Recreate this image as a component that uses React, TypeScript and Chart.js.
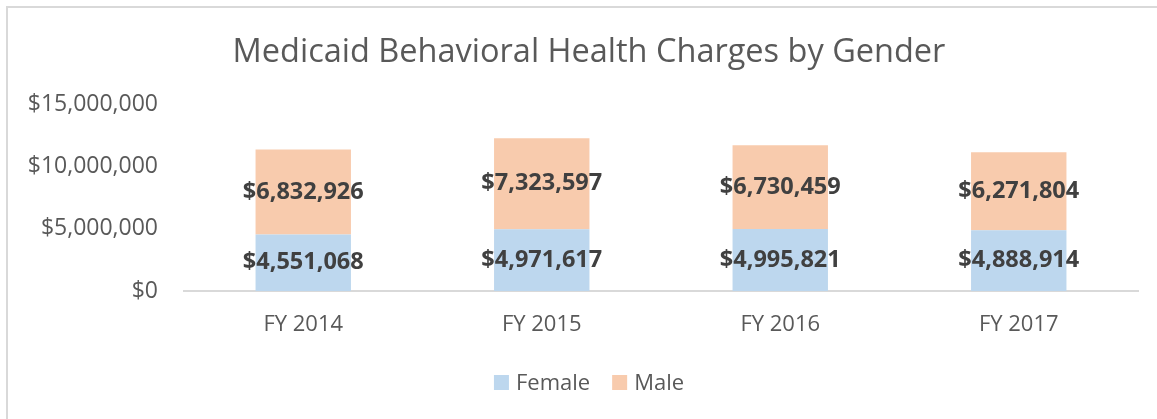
import React, { useEffect, useRef } from "react";
import { Chart, registerables } from "chart.js";

Chart.register(...registerables);

const categories = ["FY 2014", "FY 2015", "FY 2016", "FY 2017"];
const femaleValues = [4551068, 4971617, 4995821, 4888914];
const maleValues = [6832926, 7323597, 6730459, 6271804];
const seriesNames = ["Female", "Male"];
const seriesColors = ["#BDD7EE", "#F8CBAD"];
const titleText = "Medicaid Behavioral Health Charges by Gender";

const FONT = "'Open Sans', 'Noto Sans', sans-serif";
const TEXT = "#595959";

const fmt = (v: number) => "$" + Math.round(v).toLocaleString("en-US");

const labelPlugin = {
  id: "segLabels",
  afterDatasetsDraw(chart: any) {
    const ctx = chart.ctx;
    ctx.save();
    ctx.font = `bold 23.5px ${FONT}`;
    ctx.fillStyle = "#404040";
    ctx.textAlign = "center";
    ctx.textBaseline = "middle";
    chart.data.datasets.forEach((ds: any, di: number) => {
      const meta = chart.getDatasetMeta(di);
      meta.data.forEach((el: any, i: number) => {
        const y = (el.y + el.base) / 2;
        ctx.fillText(fmt(ds.data[i]), el.x, y);
      });
    });
    ctx.restore();
  },
};

// Title and legend drawn centred on the frame (which is offset from the canvas)
const frameCenterX = 589;
const titleY = 52.5;
const legendY = 382.5;
const legendBox = 15;
const legendBoxGap = 7;
const legendItemGap = 22;

const titleLegendPlugin = {
  id: "titleLegend",
  afterDraw(chart: any) {
    const ctx = chart.ctx;
    ctx.save();
    ctx.fillStyle = TEXT;
    ctx.textBaseline = "middle";
    ctx.textAlign = "center";
    ctx.font = `32.5px ${FONT}`;
    ctx.fillText(titleText, frameCenterX, titleY);

    ctx.font = `22px ${FONT}`;
    ctx.textAlign = "left";
    const widths = chart.data.datasets.map((d: any) => ctx.measureText(d.label).width);
    const total =
      widths.reduce((a: number, w: number) => a + legendBox + legendBoxGap + w, 0) +
      legendItemGap * (widths.length - 1);
    let x = frameCenterX - total / 2;
    chart.data.datasets.forEach((d: any, i: number) => {
      ctx.fillStyle = d.backgroundColor;
      ctx.fillRect(x, legendY - legendBox / 2, legendBox, legendBox);
      x += legendBox + legendBoxGap;
      ctx.fillStyle = TEXT;
      ctx.fillText(d.label, x, legendY + 1);
      x += widths[i] + legendItemGap;
    });
    ctx.restore();
  },
};

export default function App() {
  const ref = useRef<HTMLCanvasElement>(null);
  useEffect(() => {
    if (!ref.current) return;
    const chart = new Chart(ref.current, {
      type: "bar",
      data: {
        labels: categories,
        datasets: [
          { label: seriesNames[0], data: femaleValues, backgroundColor: seriesColors[0], barPercentage: 0.4, categoryPercentage: 1 },
          { label: seriesNames[1], data: maleValues, backgroundColor: seriesColors[1], barPercentage: 0.4, categoryPercentage: 1 },
        ],
      },
      options: {
        animation: false,
        responsive: true,
        maintainAspectRatio: false,
        layout: { padding: { left: 0, right: 19, top: 104.5, bottom: 70 } },
        plugins: {
          title: { display: false },
          legend: { display: false },
          tooltip: { enabled: false },
        },
        scales: {
          x: {
            stacked: true,
            grid: { display: false, drawTicks: false },
            border: { display: true, color: "#D9D9D9", width: 2 },
            ticks: { color: TEXT, font: { family: FONT, size: 22 }, padding: 21 },
            afterFit: (s: any) => {
              s.height = 58;
            },
          },
          y: {
            stacked: true,
            min: 0,
            max: 15000000,
            grid: { display: false, drawTicks: false },
            border: { display: false },
            ticks: {
              stepSize: 5000000,
              color: TEXT,
              font: { family: FONT, size: 23 },
              padding: 26,
              callback: (v: any) => fmt(Number(v)),
            },
            afterFit: (s: any) => {
              s.width = 184;
            },
          },
        },
      },
      plugins: [labelPlugin, titleLegendPlugin],
    });
    return () => chart.destroy();
  }, []);
  return (
    <div style={{ position: "absolute", left: 0, top: 0, width: 1157, height: 419, background: "#fff" }}>
      <canvas ref={ref} />
      <div
        style={{
          position: "absolute",
          left: 6,
          top: 6,
          width: 1200,
          height: 500,
          borderLeft: "2px solid #D9D9D9",
          borderTop: "2px solid #D9D9D9",
          pointerEvents: "none",
        }}
      />
    </div>
  );
}
